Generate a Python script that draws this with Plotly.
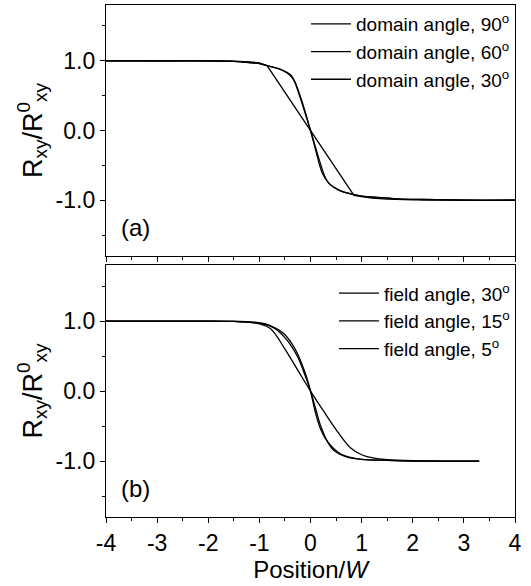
import plotly.graph_objects as go
from plotly.subplots import make_subplots

# ---- Panel (a): domain angle curves ----
a90_x = [-4, -3, -2, -1.5, -1.2, -1.0, -0.85, 0.85, 1.0, 1.2, 1.5, 2.0, 3.0, 4.0]
a90_y = [1, 1, 1, 0.995, 0.985, 0.97, 0.93, -0.93, -0.95, -0.97, -0.985, -0.995, -1, -1]

a60_x = [-4, -3, -2, -1.5, -1.2, -1.0, -0.85, -0.6, -0.45, -0.39, -0.3, -0.2, -0.1, 0.0,
         0.1, 0.23, 0.32, 0.39, 0.5, 0.6, 0.85, 1.0, 1.3, 1.7, 2.2, 3.0, 4.0]
a60_y = [1, 1, 1, 0.99, 0.975, 0.96, 0.93, 0.88, 0.83, 0.80, 0.69, 0.49, 0.26, 0.0,
         -0.28, -0.61, -0.72, -0.78, -0.83, -0.87, -0.92, -0.94, -0.96, -0.98, -0.99, -1, -1]

a30_x = [-4, -3, -2, -1.5, -1.2, -1.0, -0.85, -0.6, -0.45, -0.34, -0.28, 0.0, 0.27,
         0.34, 0.45, 0.6, 0.85, 1.0, 1.3, 1.7, 2.2, 3.0, 4.0]
a30_y = [1, 1, 1, 0.99, 0.975, 0.96, 0.93, 0.88, 0.82, 0.74, 0.64, 0.0, -0.64,
         -0.74, -0.81, -0.87, -0.92, -0.94, -0.96, -0.98, -0.99, -1, -1]

# ---- Panel (b): field angle curves ----
b30_x = [-4, -3, -2, -1.5, -1.2, -1.0, -0.78, -0.5, -0.25, 0.0, 0.25, 0.5, 0.78,
         1.0, 1.24, 1.5, 2.0, 2.5, 3.3]
b30_y = [1, 1, 1, 0.995, 0.98, 0.96, 0.89, 0.6, 0.3, 0.0, -0.28, -0.55, -0.81,
         -0.91, -0.96, -0.98, -0.995, -1, -1]

b15_x = [-4, -3, -2, -1.5, -1.2, -1.0, -0.8, -0.65, -0.45, -0.26, -0.12, 0.0, 0.1,
         0.2, 0.33, 0.46, 0.7, 1.0, 1.5, 2.0, 2.5, 3.3]
b15_y = [1, 1, 1, 0.995, 0.985, 0.97, 0.93, 0.87, 0.72, 0.5, 0.25, 0.0, -0.25,
         -0.5, -0.72, -0.85, -0.94, -0.975, -0.99, -1, -1, -1]

b5_x = [-4, -3, -2, -1.5, -1.2, -1.0, -0.8, -0.52, -0.3, -0.1, 0.0, 0.1, 0.2,
        0.33, 0.59, 0.8, 1.0, 1.5, 2.0, 2.5, 3.3]
b5_y = [1, 1, 1, 0.995, 0.99, 0.975, 0.94, 0.82, 0.6, 0.25, 0.0, -0.32, -0.55,
        -0.72, -0.9, -0.95, -0.975, -0.99, -1, -1, -1]

x_ticks = [-4, -3, -2, -1, 0, 1, 2, 3, 4]
x_labels = ["-4", "-3", "-2", "-1", "0", "1", "2", "3", "4"]
y_ticks = [1, 0, -1]
y_labels = ["1.0", "0.0", "-1.0"]

FONT = "Liberation Sans, Arial, sans-serif"

fig = make_subplots(rows=2, cols=1, vertical_spacing=0.0)

line = dict(color="black", width=1.3)

series_a = [("domain angle, 90<sup>o</sup>", a90_x, a90_y, "linear"),
            ("domain angle, 60<sup>o</sup>", a60_x, a60_y, "spline"),
            ("domain angle, 30<sup>o</sup>", a30_x, a30_y, "spline")]
series_b = [("field angle, 30<sup>o</sup>", b30_x, b30_y, "spline"),
            ("field angle, 15<sup>o</sup>", b15_x, b15_y, "spline"),
            ("field angle, 5<sup>o</sup>", b5_x, b5_y, "spline")]

for i, (name, xs, ys, shape) in enumerate(series_a):
    fig.add_trace(go.Scatter(x=xs, y=ys, mode="lines", name=name, line=line,
                             line_shape=shape, legend="legend"), row=1, col=1)
for i, (name, xs, ys, shape) in enumerate(series_b):
    fig.add_trace(go.Scatter(x=xs, y=ys, mode="lines", name=name, line=line,
                             line_shape=shape, legend="legend2"), row=2, col=1)

axis_common = dict(showline=True, linecolor="black", linewidth=1.3, mirror=True,
                   ticks="outside", ticklen=5, tickwidth=1.2, tickcolor="black",
                   showgrid=False, zeroline=False,
                   tickfont=dict(family=FONT, size=23, color="black"))

fig.update_xaxes(range=[-4, 4], tickvals=x_ticks, ticktext=x_labels,
                 minor=dict(dtick=0.5, ticks="outside", ticklen=3, tickcolor="black"),
                 **axis_common)
fig.update_xaxes(showticklabels=False, row=1, col=1)
fig.update_xaxes(title=dict(text="Position/<i>W</i>", font=dict(family=FONT, size=24, color="black"),
                            standoff=2), row=2, col=1)

fig.update_yaxes(range=[-1.8, 1.8], tickvals=y_ticks, ticktext=y_labels,
                 minor=dict(tickvals=[-1.5, -0.5, 0.5, 1.5], ticks="outside", ticklen=3, tickcolor="black"),
                 title=dict(text="R<sub>xy</sub>/R<sup>0</sup><sub>xy</sub>",
                            font=dict(family=FONT, size=27, color="black"), standoff=5),
                 **axis_common)

legend_font = dict(family=FONT, size=19, color="black")

fig.update_layout(
    width=531, height=586,
    margin=dict(l=106, r=16, t=5, b=69, autoexpand=False),
    plot_bgcolor="white", paper_bgcolor="white",
    font=dict(family=FONT, color="black"),
    xaxis=dict(domain=[0, 1]),
    yaxis=dict(domain=[0.5098, 1.0]),
    yaxis2=dict(domain=[0.0, 0.492]),
    legend=dict(x=1.0, y=1.0, xanchor="right", yanchor="top",
                bgcolor="rgba(0,0,0,0)", font=legend_font, itemwidth=40),
    legend2=dict(x=1.0, y=0.474, xanchor="right", yanchor="top",
                 bgcolor="rgba(0,0,0,0)", font=legend_font, itemwidth=40),
    annotations=[
        dict(text="(a)", x=-3.75, y=-1.39, xref="x", yref="y", showarrow=False,
             xanchor="left", font=dict(family=FONT, size=24, color="black")),
        dict(text="(b)", x=-3.75, y=-1.39, xref="x2", yref="y2", showarrow=False,
             xanchor="left", font=dict(family=FONT, size=24, color="black")),
    ],
)

fig.write_html("out.html", config={"displayModeBar": False},
               post_script="document.body.style.margin='0';")
